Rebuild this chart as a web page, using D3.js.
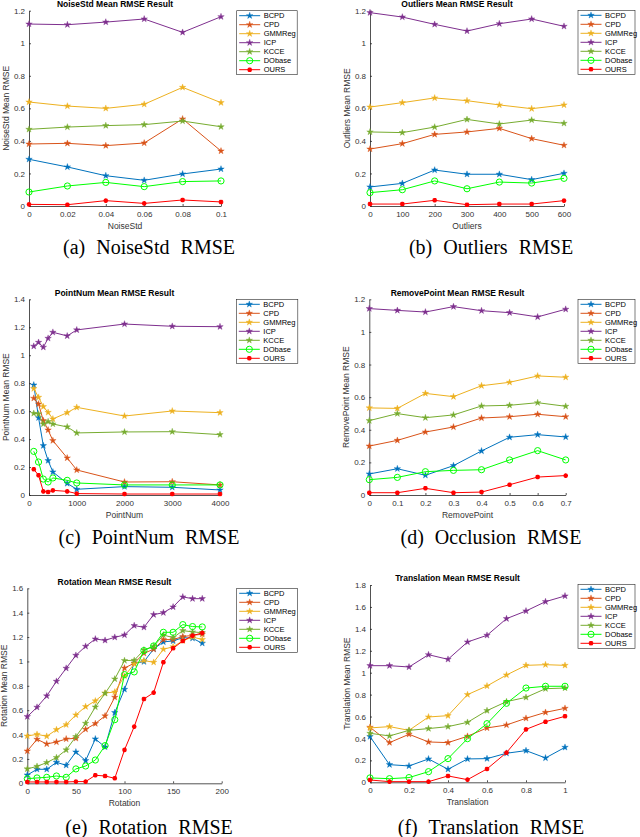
<!DOCTYPE html>
<html>
<head>
<meta charset="utf-8">
<script src="https://cdn.jsdelivr.net/npm/d3@7"></script>
<style>
  body { margin: 0; background: #fff; }
  svg { display: block; }
  .tick-label { font-family: "Liberation Sans", Arial, sans-serif; font-size: 8px; fill: #333; }
  .ax-title { font-family: "Liberation Sans", Arial, sans-serif; font-size: 8.5px; font-weight: bold; fill: #000; }
  .ax-label { font-family: "Liberation Sans", Arial, sans-serif; font-size: 8.5px; fill: #333; }
  .leg-label { font-family: "Liberation Sans", Arial, sans-serif; font-size: 7.5px; fill: #000; }
  .caption { font-family: "Liberation Serif", "Times New Roman", serif; font-size: 20px; word-spacing: 6px; fill: #000; }
</style>
</head>
<body>
<script>
// methods, in legend / drawing order
const methods = ["BCPD", "CPD", "GMMReg", "ICP", "KCCE", "DObase", "OURS"];
const methodColors = ["#0072BD", "#D95319", "#EDB120", "#7E2F8E", "#77AC30", "#00FF00", "#FF0000"];
const methodMarkers = ["star", "star", "star", "star", "star", "circle", "asterisk"];

// (a) noise
const noiseStd = [0, 0.02, 0.04, 0.06, 0.08, 0.1];
const noiseRMSE = [
  [0.287, 0.240, 0.186, 0.158, 0.197, 0.227],
  [0.381, 0.385, 0.371, 0.387, 0.535, 0.338],
  [0.639, 0.614, 0.600, 0.625, 0.729, 0.635],
  [1.118, 1.114, 1.130, 1.149, 1.067, 1.163],
  [0.471, 0.485, 0.494, 0.500, 0.522, 0.487],
  [0.086, 0.123, 0.145, 0.119, 0.150, 0.154],
  [0.010, 0.008, 0.033, 0.016, 0.037, 0.025]
];
const noiseXTicks = [0, 0.02, 0.04, 0.06, 0.08, 0.1];
const noiseYTicks = [0, 0.2, 0.4, 0.6, 0.8, 1, 1.2];

// (b) outliers
const outliers = [0, 100, 200, 300, 400, 500, 600];
const outliersRMSE = [
  [0.117, 0.139, 0.221, 0.195, 0.195, 0.162, 0.201],
  [0.350, 0.383, 0.440, 0.455, 0.477, 0.414, 0.373],
  [0.608, 0.635, 0.664, 0.647, 0.621, 0.598, 0.621],
  [1.188, 1.161, 1.116, 1.075, 1.120, 1.149, 1.104],
  [0.455, 0.451, 0.485, 0.532, 0.504, 0.528, 0.508],
  [0.082, 0.100, 0.154, 0.106, 0.147, 0.141, 0.170],
  [0.012, 0.012, 0.035, 0.008, 0.012, 0.012, 0.033]
];
const outliersXTicks = [0, 100, 200, 300, 400, 500, 600];
const outliersYTicks = [0, 0.2, 0.4, 0.6, 0.8, 1, 1.2];

// (c) point number
const pointNum = [100, 200, 300, 400, 500, 800, 1000, 2000, 3000, 4000];
const pointNumRMSE = [
  [0.787, 0.553, 0.353, 0.246, 0.165, 0.083, 0.041, 0.060, 0.055, 0.036],
  [0.692, 0.651, 0.532, 0.465, 0.389, 0.265, 0.179, 0.093, 0.095, 0.072],
  [0.761, 0.699, 0.632, 0.591, 0.544, 0.589, 0.627, 0.565, 0.601, 0.589],
  [1.064, 1.092, 1.057, 1.121, 1.164, 1.138, 1.181, 1.223, 1.207, 1.204],
  [0.584, 0.580, 0.508, 0.525, 0.508, 0.487, 0.444, 0.451, 0.453, 0.432],
  [0.312, 0.236, 0.114, 0.093, 0.122, 0.105, 0.086, 0.072, 0.072, 0.072],
  [0.184, 0.141, 0.026, 0.021, 0.033, 0.026, 0.010, 0.007, 0.007, 0.007]
];
const pointNumXTicks = [0, 1000, 2000, 3000, 4000];
const pointNumYTicks = [0, 0.2, 0.4, 0.6, 0.8, 1, 1.2, 1.4];

// (d) occlusion
const removePoint = [0, 0.1, 0.2, 0.3, 0.4, 0.5, 0.6, 0.7];
const removeRMSE = [
  [0.129, 0.161, 0.121, 0.180, 0.270, 0.354, 0.370, 0.356],
  [0.300, 0.335, 0.386, 0.417, 0.472, 0.480, 0.495, 0.480],
  [0.534, 0.531, 0.623, 0.603, 0.670, 0.691, 0.730, 0.722],
  [1.143, 1.132, 1.122, 1.155, 1.130, 1.118, 1.092, 1.139],
  [0.456, 0.499, 0.474, 0.491, 0.546, 0.550, 0.566, 0.544],
  [0.094, 0.108, 0.143, 0.151, 0.155, 0.215, 0.272, 0.215],
  [0.014, 0.014, 0.041, 0.014, 0.018, 0.063, 0.110, 0.119]
];
const removeXTicks = [0, 0.1, 0.2, 0.3, 0.4, 0.5, 0.6, 0.7];
const removeYTicks = [0, 0.2, 0.4, 0.6, 0.8, 1, 1.2];

// (e) rotation
const rotation = [0, 10, 20, 30, 40, 50, 60, 70, 80, 90, 100, 110, 120, 130, 140, 150, 160, 170, 180];
const rotationRMSE = [
  [0.068, 0.115, 0.115, 0.172, 0.148, 0.257, 0.186, 0.364, 0.298, 0.580, 0.771, 0.985, 0.998, 1.102, 1.160, 1.168, 1.195, 1.190, 1.149],
  [0.265, 0.361, 0.323, 0.339, 0.364, 0.369, 0.443, 0.490, 0.553, 0.706, 0.946, 0.985, 1.067, 1.100, 1.179, 1.179, 1.204, 1.214, 1.223],
  [0.388, 0.402, 0.386, 0.440, 0.481, 0.561, 0.629, 0.676, 0.741, 0.749, 0.880, 0.980, 1.007, 0.993, 1.100, 1.120, 1.170, 1.200, 1.180],
  [0.547, 0.624, 0.717, 0.837, 0.944, 1.050, 1.124, 1.184, 1.173, 1.198, 1.217, 1.294, 1.280, 1.384, 1.400, 1.447, 1.529, 1.515, 1.515],
  [0.118, 0.139, 0.170, 0.211, 0.274, 0.383, 0.492, 0.626, 0.738, 0.856, 1.007, 1.009, 1.094, 1.124, 1.217, 1.195, 1.253, 1.242, 1.236],
  [0.038, 0.044, 0.049, 0.060, 0.049, 0.118, 0.142, 0.191, 0.309, 0.522, 0.892, 0.914, 1.089, 1.127, 1.239, 1.239, 1.302, 1.286, 1.283],
  [0.011, 0.011, 0.011, 0.011, 0.011, 0.014, 0.014, 0.066, 0.060, 0.041, 0.274, 0.465, 0.692, 0.744, 0.993, 1.108, 1.168, 1.212, 1.234]
];
const rotationXTicks = [0, 50, 100, 150, 200];
const rotationYTicks = [0, 0.2, 0.4, 0.6, 0.8, 1, 1.2, 1.4, 1.6];

// (f) translation
const translation = [0, 0.1, 0.2, 0.3, 0.4, 0.5, 0.6, 0.7, 0.8, 0.9, 1];
const translationRMSE = [
  [0.417, 0.161, 0.149, 0.213, 0.119, 0.213, 0.216, 0.265, 0.289, 0.222, 0.319],
  [0.502, 0.362, 0.438, 0.368, 0.362, 0.420, 0.496, 0.523, 0.584, 0.638, 0.675],
  [0.496, 0.508, 0.474, 0.596, 0.608, 0.800, 0.879, 0.979, 1.067, 1.073, 1.067],
  [1.064, 1.064, 1.052, 1.164, 1.122, 1.280, 1.341, 1.493, 1.563, 1.648, 1.700],
  [0.447, 0.423, 0.474, 0.490, 0.508, 0.547, 0.654, 0.736, 0.775, 0.854, 0.860],
  [0.040, 0.033, 0.043, 0.097, 0.216, 0.398, 0.535, 0.721, 0.860, 0.876, 0.876],
  [0.021, 0.006, 0.006, 0.006, 0.058, 0.024, 0.122, 0.271, 0.483, 0.553, 0.602]
];
const translationXTicks = [0, 0.2, 0.4, 0.6, 0.8, 1];
const translationYTicks = [0, 0.2, 0.4, 0.6, 0.8, 1, 1.2, 1.4, 1.6, 1.8];

const panels = [
  { xs: noiseStd, ys: noiseRMSE, xt: noiseXTicks, yt: noiseYTicks, name: "NoiseStd", cap: "(a) NoiseStd RMSE",
    l: 29, r: 221, t: 10.7, b: 206, legX: 236.7, legY: 10.7, legW: 60.5, capX: 149, capY: 254 },
  { xs: outliers, ys: outliersRMSE, xt: outliersXTicks, yt: outliersYTicks, name: "Outliers", cap: "(b) Outliers RMSE",
    l: 370, r: 564, t: 10.7, b: 206, legX: 578, legY: 10.3, legW: 57, capX: 491, capY: 254 },
  { xs: pointNum, ys: pointNumRMSE, xt: pointNumXTicks, yt: pointNumYTicks, name: "PointNum", cap: "(c) PointNum RMSE",
    l: 29, r: 220, t: 299.3, b: 495, legX: 236.3, legY: 299.3, legW: 61.5, capX: 149, capY: 544 },
  { xs: removePoint, ys: removeRMSE, xt: removeXTicks, yt: removeYTicks, name: "RemovePoint", cap: "(d) Occlusion RMSE",
    l: 369.3, r: 565.7, t: 299.3, b: 495, legX: 578, legY: 299.3, legW: 57, capX: 491, capY: 544 },
  { xs: rotation, ys: rotationRMSE, xt: rotationXTicks, yt: rotationYTicks, name: "Rotation", cap: "(e) Rotation RMSE",
    l: 27.3, r: 221.7, t: 588.3, b: 783.3, legX: 236.7, legY: 588.3, legW: 61, capX: 149, capY: 834 },
  { xs: translation, ys: translationRMSE, xt: translationXTicks, yt: translationYTicks, name: "Translation", cap: "(f) Translation RMSE",
    l: 370, r: 565, t: 585, b: 782.3, legX: 578, legY: 584.3, legW: 57, capX: 491, capY: 834 }
];

const svg = d3.select("body").append("svg").attr("width", 640).attr("height", 837);
const fmt = d3.format("~g");

function starPath(R) {
  const pts = [];
  for (let i = 0; i < 10; i++) {
    const a = -Math.PI / 2 + i * Math.PI / 5;
    const rr = i % 2 ? R * 0.382 : R;
    pts.push([(rr * Math.cos(a)).toFixed(2), (rr * Math.sin(a)).toFixed(2)]);
  }
  return "M" + pts.join("L") + "Z";
}
const STAR = starPath(3.4);
const ASTER = "M-2.3,0L2.3,0M0,-2.3L0,2.3M-1.7,-1.7L1.7,1.7M-1.7,1.7L1.7,-1.7";

function drawMarker(g, kind, color, x, y) {
  if (kind === "star") {
    g.append("path").attr("d", STAR).attr("transform", `translate(${x},${y})`)
      .attr("fill", color).attr("stroke", color).attr("stroke-width", 0.4);
  } else if (kind === "circle") {
    g.append("circle").attr("cx", x).attr("cy", y).attr("r", 3.1)
      .attr("fill", "none").attr("stroke", color).attr("stroke-width", 1);
  } else {
    g.append("path").attr("d", ASTER).attr("transform", `translate(${x},${y})`)
      .attr("fill", "none").attr("stroke", color).attr("stroke-width", 1.4);
  }
}

panels.forEach(p => {
  const x = d3.scaleLinear().domain([p.xt[0], p.xt[p.xt.length - 1]]).range([p.l, p.r]);
  const y = d3.scaleLinear().domain([0, p.yt[p.yt.length - 1]]).range([p.b, p.t]);
  const g = svg.append("g");

  // axes (box off, ticks pointing inward)
  const xAxis = d3.axisBottom(x).tickValues(p.xt).tickFormat(fmt).tickSizeInner(-2).tickSizeOuter(0).tickPadding(6);
  const yAxis = d3.axisLeft(y).tickValues(p.yt).tickFormat(fmt).tickSizeInner(-2).tickSizeOuter(0).tickPadding(6);
  const gx = g.append("g").attr("transform", `translate(0,${p.b})`).call(xAxis);
  const gy = g.append("g").attr("transform", `translate(${p.l},0)`).call(yAxis);
  [gx, gy].forEach(a => {
    a.select(".domain").attr("stroke", "#262626").attr("stroke-width", 0.8);
    a.selectAll(".tick line").attr("stroke", "#262626").attr("stroke-width", 0.8);
    a.selectAll(".tick text").attr("class", "tick-label").attr("font-size", null).attr("font-family", null).attr("fill", null);
  });
  gx.selectAll(".tick text").attr("dy", "0.71em").attr("y", 5.5);
  gy.selectAll(".tick text").attr("x", -4);

  // series
  const line = d3.line().x((d, i) => x(p.xs[i])).y(d => y(d));
  p.ys.forEach((vals, k) => {
    const sg = g.append("g");
    sg.append("path").attr("d", line(vals)).attr("fill", "none")
      .attr("stroke", methodColors[k]).attr("stroke-width", 1);
    vals.forEach((v, i) => drawMarker(sg, methodMarkers[k], methodColors[k], x(p.xs[i]), y(v)));
  });

  // titles and labels
  g.append("text").attr("class", "ax-title").attr("x", (p.l + p.r) / 2 - 10).attr("y", p.t - 3.8)
    .attr("text-anchor", "middle").text(p.name + " Mean RMSE Result");
  g.append("text").attr("class", "ax-label").attr("x", (p.l + p.r) / 2).attr("y", p.b + 23)
    .attr("text-anchor", "middle").text(p.name);
  g.append("text").attr("class", "ax-label").attr("text-anchor", "middle")
    .attr("transform", `translate(${p.l - 20},${(p.t + p.b) / 2}) rotate(-90)`)
    .text(p.name + " Mean RMSE");

  // legend
  const lg = g.append("g").attr("transform", `translate(${p.legX},${p.legY})`);
  lg.append("rect").attr("width", p.legW).attr("height", 64).attr("fill", "#fff")
    .attr("stroke", "#262626").attr("stroke-width", 0.6);
  methods.forEach((m, k) => {
    const ry = 5 + k * 9;
    lg.append("line").attr("x1", 2.5).attr("x2", 23.5).attr("y1", ry).attr("y2", ry)
      .attr("stroke", methodColors[k]).attr("stroke-width", 1);
    drawMarker(lg, methodMarkers[k], methodColors[k], 13, ry);
    lg.append("text").attr("class", "leg-label").attr("x", 27).attr("y", ry).attr("dy", "0.35em").text(m);
  });

  // caption
  svg.append("text").attr("class", "caption").attr("x", p.capX).attr("y", p.capY)
    .attr("text-anchor", "middle").text(p.cap);
});
</script>
</body>
</html>
